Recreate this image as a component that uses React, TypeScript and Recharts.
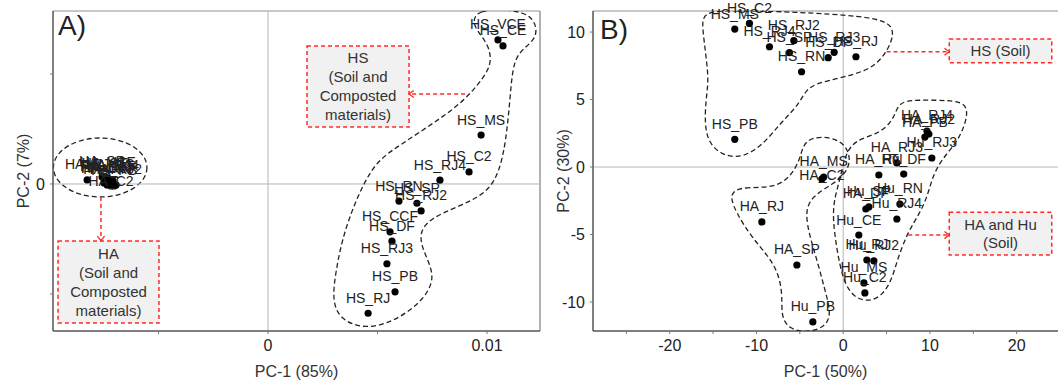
import React from 'react';
import {
  ScatterChart,
  Scatter,
  XAxis,
  YAxis,
  ReferenceLine,
  ReferenceArea,
  LabelList,
  Label,
  Customized,
} from 'recharts';

// ---------- Panel A: PC-1 (85%) / PC-2 (7%) ----------
const haNamesA = ['HA_RJ', 'HA_SP', 'HA_CE', 'HA_VCE', 'HA_MS', 'HA_RJ4', 'HA_DF', 'HA_RN', 'HA_C2', 'HA_PB', 'HA_RJ2', 'HA_CCF', 'HA_RJ3'];
const haXA = [-0.00826, -0.00758, -0.00744, -0.00731, -0.00721, -0.00708, -0.00749, -0.00735, -0.00717, -0.00703, -0.00694, -0.00726, -0.0074];
const haYA = [0.000073, 0.000127, 0.000091, 0.000109, 0.000073, 0.000055, 0.000018, -0.000018, -0.000036, -0.000036, -0.000018, 0, 0.000036];

const hsNamesA = ['HS_VCE', 'HS_CE', 'HS_MS', 'HS_C2', 'HS_RJ4', 'HS_RN', 'HS_SP', 'HS_RJ2', 'HS_CCF', 'HS_DF', 'HS_RJ3', 'HS_PB', 'HS_RJ'];
const hsXA = [0.0105, 0.01073, 0.00973, 0.00918, 0.00785, 0.00598, 0.0068, 0.00699, 0.00557, 0.00566, 0.00543, 0.0058, 0.00457];
const hsYA = [0.00262, 0.00251, 0.00089, 0.00022, 0.00007, -0.00031, -0.00035, -0.00049, -0.00087, -0.00104, -0.00145, -0.00196, -0.00235];

const xDomainA = [-0.00982, 0.01242];
const yDomainA = [-0.002673, 0.003145];
const xTicksA = [-0.005, 0, 0.005, 0.01];
const yTicksA = [-0.002, 0, 0.002];

// group outlines (data units)
const hsOutlineA = [
  [0.00936, 0.00298], [0.00959, 0.00315], [0.01082, 0.00318], [0.0121, 0.00309], [0.01237, 0.00269],
  [0.01169, 0.00247], [0.01119, 0.00225], [0.01105, 0.00153], [0.01087, 0.0008], [0.01059, 0.00025],
  [0.01005, -0.00015], [0.00877, -0.0004], [0.0074, -0.00062], [0.00685, -0.00091], [0.00717, -0.00129],
  [0.00767, -0.00171], [0.00703, -0.00215], [0.00571, -0.00251], [0.00443, -0.00264], [0.00329, -0.00247],
  [0.00292, -0.00211], [0.00311, -0.00156], [0.00338, -0.00102], [0.00384, -0.00047], [0.00438, 0.00002],
  [0.00502, 0.00044], [0.00612, 0.00073], [0.00749, 0.00109], [0.00886, 0.00147], [0.00986, 0.00193],
  [0.01023, 0.00222], [0.01005, 0.00255], [0.0095, 0.0028],
];
const haRingA = { x1: -0.0098, x2: -0.00553, y1: -0.000236, y2: 0.000836 };

// ---------- Panel B: PC-1 (50%) / PC-2 (30%) ----------
const hsNamesB = ['HS_MS', 'HS_C2', 'HS_RJ4', 'HS_RJ2', 'HS_SP', 'HS_RN', 'HS_DF', 'HS_RJ3', 'HS_RJ', 'HS_PB'];
const hsXB = [-12.5, -10.81, -8.5, -5.69, -6.2, -4.8, -1.73, -1.04, 1.47, -12.5];
const hsYB = [10.22, 10.64, 8.91, 9.36, 8.47, 7.06, 8.1, 8.5, 8.17, 2.05];

const haNamesB = [
  'HA_RJ4', 'HA_RJ2', 'HA_PB', 'Hu_RJ3', 'HA_RJ3', 'HA_RN', 'Hu_DF', 'HA_MS', 'HA_C2', 'HA_DF', 'Hu_SP',
  'Hu_RN', 'Hu_RJ4', 'Hu_CE', 'Hu_RJ', 'Hu_RJ2', 'Hu_MS', 'Hu_C2', 'Hu_PB', 'HA_RJ', 'HA_SP',
];
const haXB = [9.66, 9.88, 9.42, 10.22, 6.19, 4.11, 6.98, -2.25, -2.46, 2.61, 2.96, 6.54, 6.19, 1.8, 2.73, 3.54, 2.39, 2.5, -3.5, -9.38, -5.34];
const haYB = [2.67, 2.44, 2.22, 0.67, 0.3, -0.59, -0.52, -0.74, -0.89, -3.11, -2.96, -2.74, -3.85, -5.04, -6.89, -6.96, -8.59, -9.33, -11.48, -4.07, -7.26];

// names whose label sits beside the dot rather than above it
const lowLabels = ['HA_C2'];

const xDomainB = [-28.85, 24.77];
const yDomainB = [-12.15, 11.56];
const xTicksB = [-25, -20, -15, -10, -5, 0, 5, 10, 15, 20];
const yTicksB = [-10, -5, 0, 5, 10];

const hsOutlineB = [
  [-16.3, 11.48], [-13.07, 11.63], [-5.34, 11.48], [2.27, 11.19], [5.27, 10.74], [5.85, 10.0], [5.39, 8.96],
  [4.23, 7.85], [2.62, 7.11], [-0.38, 6.59], [-3.04, 6.22], [-4.3, 5.7], [-5.0, 4.81], [-6.15, 3.93],
  [-7.3, 3.19], [-8.8, 2.0], [-10.42, 1.11], [-12.26, 0.67], [-14.23, 0.96], [-15.61, 1.93], [-15.96, 3.26],
  [-15.84, 4.96], [-15.5, 6.44], [-15.84, 8.3], [-16.19, 10.15],
];
const haLeftOutlineB = [
  [-12.73, -1.85], [-11.69, -1.48], [-8.11, -1.56], [-6.15, -0.81], [-5.0, 0.52], [-4.65, 1.63], [-3.61, 2.22],
  [-1.3, 2.22], [0.31, 1.63], [0.89, 0.52], [0.31, -0.44], [-0.96, -1.19], [-3.61, -2.15], [-4.42, -3.33],
  [-3.84, -5.19], [-2.92, -7.11], [-2.11, -9.11], [-1.42, -10.74], [-1.88, -11.78], [-4.07, -12.3],
  [-6.27, -12.0], [-7.19, -11.04], [-6.96, -9.26], [-7.77, -7.19], [-10.54, -5.26], [-12.38, -3.33], [-12.96, -2.3],
];
const haRightOutlineB = [
  [6.2, 4.37], [6.89, 4.96], [10.58, 4.96], [13.7, 4.89], [14.39, 4.22], [14.04, 3.11], [13.12, 1.85],
  [11.5, 0.67], [10.35, -0.59], [9.77, -2.07], [8.85, -3.41], [7.46, -4.81], [6.3, -6.74], [5.61, -8.37],
  [4.47, -9.56], [2.85, -10.0], [1.12, -9.63], [-0.03, -8.37], [-0.73, -6.15], [-1.19, -3.93], [-1.07, -2.44],
  [-0.38, -0.96], [0.2, 0.89], [1.35, 2.0], [4.0, 2.44], [5.62, 3.33],
];

// annotation boxes and arrows (data units)
const hsNoteA = { x1: 0.00178, x2: 0.00644, y1: 0.001036, y2: 0.002509, lines: ['HS', '(Soil and', 'Composted', 'materials)'] };
const haNoteA = { x1: -0.00959, x2: -0.00498, y1: -0.002527, y2: -0.001036, lines: ['HA', '(Soil and', 'Composted', 'materials)'] };
const hsArrowA = [{ x: 0.009, y: 0.001636 }, { x: 0.00644, y: 0.001636 }];
const haArrowA = [{ x: -0.00763, y: -0.000236 }, { x: -0.00763, y: -0.001036 }];

const hsNoteB = { x1: 12.23, x2: 24.05, y1: 7.73, y2: 9.48, lines: ['HS (Soil)'] };
const haNoteB = { x1: 12.23, x2: 24.05, y1: -6.52, y2: -3.36, lines: ['HA and Hu', '(Soil)'] };
const hsArrowB = [{ x: 5.0, y: 8.54 }, { x: 12.23, y: 8.54 }];
const haArrowB = [{ x: 7.5, y: -5.04 }, { x: 12.23, y: -5.04 }];

const RED = '#ff2b2b';
const INK = '#222';

const zip = (names: string[], xs: number[], ys: number[]) => names.map((name, i) => ({ name, x: xs[i], y: ys[i] }));
const pairs = (pts: number[][]) => pts.map(([x, y]) => ({ x, y }));
const upper = (pts: { name: string }[]) => pts.filter((p) => !lowLabels.includes(p.name));
const lower = (pts: { name: string }[]) => pts.filter((p) => lowLabels.includes(p.name));

const Dot = (p: any) => <circle cx={p.cx} cy={p.cy} r={3.6} fill="#000" />;
const NoDot = () => <g />;

const ellipseShape = (p: any) => (
  <ellipse
    cx={p.x + p.width / 2}
    cy={p.y + p.height / 2}
    rx={p.width / 2}
    ry={p.height / 2}
    fill="none"
    stroke={INK}
    strokeWidth={1.3}
    strokeDasharray="5 3"
  />
);

const noteShape = (lines: string[], gap: number) => (p: any) => {
  const cx = p.x + p.width / 2;
  const top = p.y + p.height / 2 - ((lines.length - 1) * gap) / 2;
  return (
    <g>
      <rect x={p.x} y={p.y} width={p.width} height={p.height} fill="#f1f1f1" stroke={RED} strokeWidth={1.5} strokeDasharray="4 3" />
      {lines.map((t, i) => (
        <text key={i} x={cx} y={top + i * gap} textAnchor="middle" dominantBaseline="central" fontSize={15} fill="#333">
          {t}
        </text>
      ))}
    </g>
  );
};

const arrowShape = (p: any) => {
  const { x1, y1, x2, y2 } = p;
  const a = Math.atan2(y2 - y1, x2 - x1);
  const s = 6;
  const h1 = `${x2 + s * Math.cos(a + 2.5)},${y2 + s * Math.sin(a + 2.5)}`;
  const h2 = `${x2 + s * Math.cos(a - 2.5)},${y2 + s * Math.sin(a - 2.5)}`;
  return (
    <g>
      <line x1={x1} y1={y1} x2={x2} y2={y2} stroke={RED} strokeWidth={1.5} strokeDasharray="4 3" />
      <polyline points={`${h1} ${x2},${y2} ${h2}`} fill="none" stroke={RED} strokeWidth={1.3} />
    </g>
  );
};

const yTitle = (text: string) => (props: any) => {
  const vb = props.viewBox || {};
  const cx = 23;
  const cy = vb.height ? vb.y + vb.height / 2 : 171;
  return (
    <text x={cx} y={cy} transform={`rotate(-90 ${cx} ${cy})`} textAnchor="middle" dominantBaseline="central" fontSize={16} fill="#333">
      {text}
    </text>
  );
};

const outlineLine = { stroke: INK, strokeWidth: 1.3, strokeDasharray: '5 3' };
const tickStyle = { fill: '#222', fontSize: 16 };
const labelStyle = { fill: '#222', fontSize: 14 };

const PointGroup = (pts: { name: string; x: number; y: number }[]) => [
  <Scatter key="up" data={upper(pts)} shape={Dot} isAnimationActive={false}>
    <LabelList dataKey="name" position="top" offset={6} {...labelStyle} />
  </Scatter>,
  <Scatter key="low" data={lower(pts)} shape={Dot} isAnimationActive={false}>
    <LabelList dataKey="name" position="top" offset={-5} {...labelStyle} />
  </Scatter>,
];

const PanelA = () => (
  <ScatterChart width={545} height={380} margin={{ top: 11, right: 5, bottom: 0, left: 0 }}>
    <XAxis
      type="number"
      dataKey="x"
      domain={xDomainA}
      allowDataOverflow
      ticks={xTicksA}
      interval={0}
      tickFormatter={(v: number) => (v === 0 ? '0' : v === 0.01 ? '0.01' : '')}
      height={49}
      tickSize={3}
      tickMargin={6}
      tick={tickStyle}
      axisLine={{ stroke: '#555', strokeWidth: 1.5 }}
      tickLine={{ stroke: '#777' }}
      label={{ value: 'PC-1 (85%)', position: 'insideBottom', offset: 3, fill: '#333', fontSize: 16 }}
    />
    <YAxis
      type="number"
      dataKey="y"
      domain={yDomainA}
      allowDataOverflow
      ticks={yTicksA}
      interval={0}
      tickFormatter={(v: number) => (v === 0 ? '0' : '')}
      width={53}
      tickSize={3}
      tickMargin={5}
      tick={tickStyle}
      axisLine={{ stroke: '#555', strokeWidth: 1.5 }}
      tickLine={{ stroke: '#777' }}
    >
      <Label content={yTitle('PC-2 (7%)')} />
    </YAxis>
    <ReferenceLine y={yDomainA[1]} stroke="#c8c8c8" strokeWidth={2} ifOverflow="visible" />
    <ReferenceLine x={xDomainA[1]} stroke="#999" strokeWidth={1.5} ifOverflow="visible" />
    <ReferenceLine x={0} stroke="#b5b5b5" />
    <ReferenceLine y={0} stroke="#b5b5b5" />
    <ReferenceArea {...haRingA} ifOverflow="visible" shape={ellipseShape} />
    <ReferenceArea x1={hsNoteA.x1} x2={hsNoteA.x2} y1={hsNoteA.y1} y2={hsNoteA.y2} ifOverflow="visible" shape={noteShape(hsNoteA.lines, 19)} />
    <ReferenceArea x1={haNoteA.x1} x2={haNoteA.x2} y1={haNoteA.y1} y2={haNoteA.y2} ifOverflow="visible" shape={noteShape(haNoteA.lines, 19)} />
    <ReferenceLine segment={hsArrowA} ifOverflow="visible" shape={arrowShape} />
    <ReferenceLine segment={haArrowA} ifOverflow="visible" shape={arrowShape} />
    <Scatter data={pairs(hsOutlineA)} line={outlineLine} lineJointType="basisClosed" shape={NoDot} isAnimationActive={false} />
    {PointGroup(zip(haNamesA, haXA, haYA))}
    {PointGroup(zip(hsNamesA, hsXA, hsYA))}
    <Customized component={<text x={58} y={35} fontSize={28} fill={INK}>A)</text>} />
  </ScatterChart>
);

const PanelB = () => (
  <ScatterChart width={518} height={380} margin={{ top: 11, right: 0, bottom: 0, left: 0 }}>
    <XAxis
      type="number"
      dataKey="x"
      domain={xDomainB}
      allowDataOverflow
      ticks={xTicksB}
      interval={0}
      tickFormatter={(v: number) => (v % 10 === 0 ? String(v) : '')}
      height={49}
      tickSize={3}
      tickMargin={6}
      tick={tickStyle}
      axisLine={{ stroke: '#555', strokeWidth: 1.5 }}
      tickLine={{ stroke: '#777' }}
      label={{ value: 'PC-1 (50%)', position: 'insideBottom', offset: 3, fill: '#333', fontSize: 16 }}
    />
    <YAxis
      type="number"
      dataKey="y"
      domain={yDomainB}
      allowDataOverflow
      ticks={yTicksB}
      interval={0}
      width={53}
      tickSize={3}
      tickMargin={5}
      tick={tickStyle}
      axisLine={{ stroke: '#555', strokeWidth: 1.5 }}
      tickLine={{ stroke: '#777' }}
    >
      <Label content={yTitle('PC-2 (30%)')} />
    </YAxis>
    <ReferenceLine y={yDomainB[1]} stroke="#c8c8c8" strokeWidth={2} ifOverflow="visible" />
    <ReferenceLine x={0} stroke="#b5b5b5" />
    <ReferenceLine y={0} stroke="#b5b5b5" />
    <ReferenceArea x1={hsNoteB.x1} x2={hsNoteB.x2} y1={hsNoteB.y1} y2={hsNoteB.y2} ifOverflow="visible" shape={noteShape(hsNoteB.lines, 18)} />
    <ReferenceArea x1={haNoteB.x1} x2={haNoteB.x2} y1={haNoteB.y1} y2={haNoteB.y2} ifOverflow="visible" shape={noteShape(haNoteB.lines, 18)} />
    <ReferenceLine segment={hsArrowB} ifOverflow="visible" shape={arrowShape} />
    <ReferenceLine segment={haArrowB} ifOverflow="visible" shape={arrowShape} />
    <Scatter data={pairs(hsOutlineB)} line={outlineLine} lineJointType="basisClosed" shape={NoDot} isAnimationActive={false} />
    <Scatter data={pairs(haLeftOutlineB)} line={outlineLine} lineJointType="basisClosed" shape={NoDot} isAnimationActive={false} />
    <Scatter data={pairs(haRightOutlineB)} line={outlineLine} lineJointType="basisClosed" shape={NoDot} isAnimationActive={false} />
    {PointGroup(zip(hsNamesB, hsXB, hsYB))}
    {PointGroup(zip(haNamesB, haXB, haYB))}
    <Customized component={<text x={60} y={39} fontSize={28} fill={INK}>B)</text>} />
  </ScatterChart>
);

export default function App() {
  return (
    <div
      style={{
        position: 'absolute',
        left: 0,
        top: 0,
        width: 1058,
        height: 380,
        overflow: 'hidden',
        background: '#fff',
        fontFamily: "'Liberation Sans', Arial, sans-serif",
      }}
    >
      <div style={{ position: 'absolute', left: 0, top: 0 }}>
        <PanelA />
      </div>
      <div style={{ position: 'absolute', left: 540, top: 0 }}>
        <PanelB />
      </div>
    </div>
  );
}
